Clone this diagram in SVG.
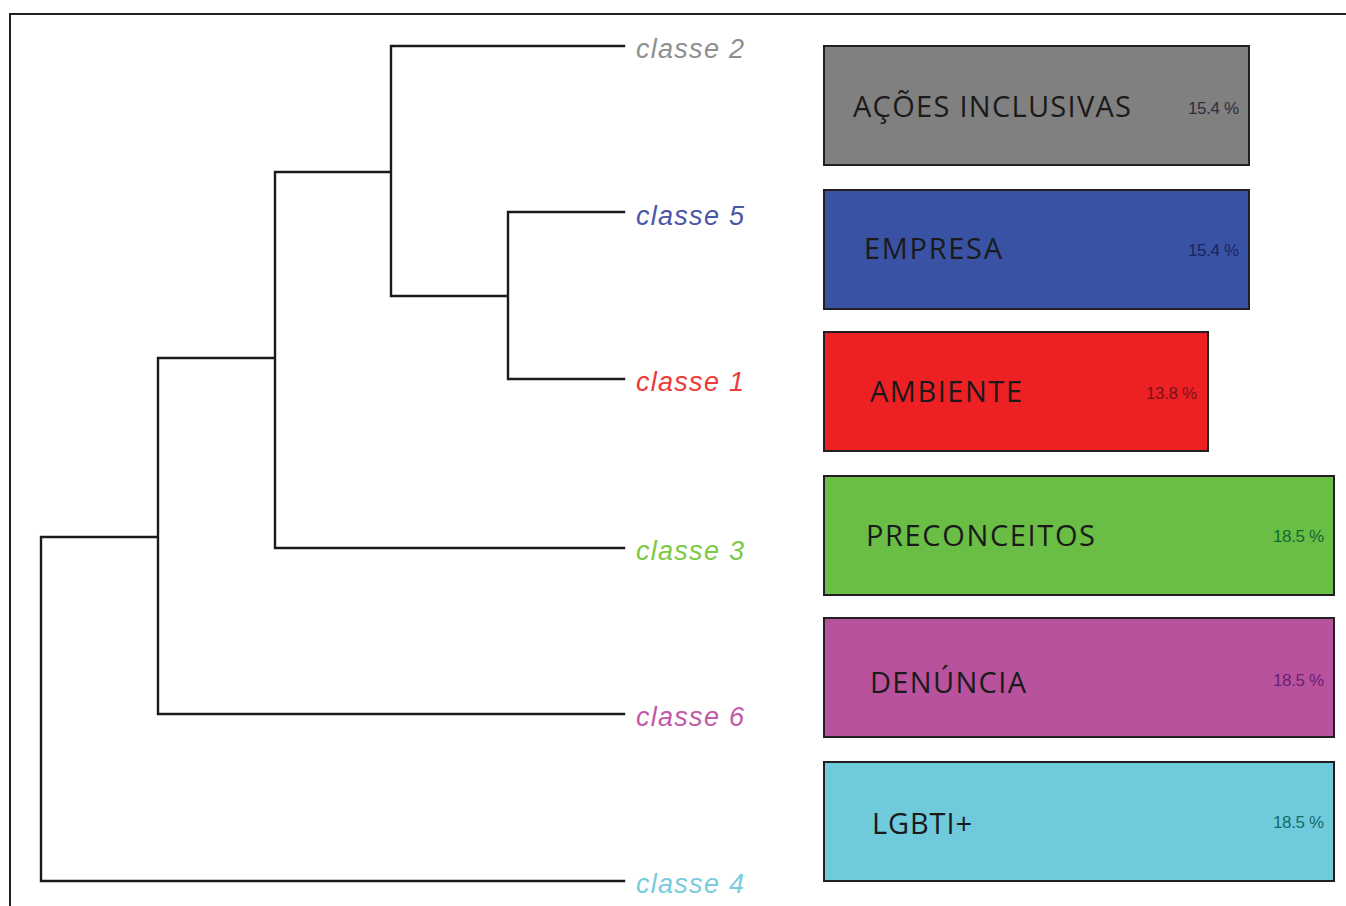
<svg xmlns="http://www.w3.org/2000/svg" width="1346" height="906" viewBox="0 0 1346 906">
<style>
.frame{stroke:#231f20;stroke-width:2;fill:none}
.tree{stroke:#1a1a1a;stroke-width:2.4;fill:none;stroke-linecap:square}
.cls{font-family:"Liberation Sans",Arial,sans-serif;font-style:italic;font-size:27px}
.box{stroke:#231f20;stroke-width:2}
.lbl{font-family:"Open Sans","Liberation Sans",sans-serif;font-size:29px;fill:#1a1a1a}
.pct{font-family:"Liberation Sans",Arial,sans-serif;font-size:17px;letter-spacing:-1px}
</style>
<rect width="1346" height="906" fill="#ffffff"/>
<path class="frame" d="M10,906 V14 H1346"/>
<g id="connectors">
<path class="tree" d="M391,46 H624 M508,212 H624 M508,379 H624 M508,212 V379 M391,296 H508 M391,46 V296 M275,172 H391 M275,172 V548 M275,548 H624 M158,358 H275 M158,358 V714 M158,714 H624 M41,537 H158 M41,537 V881 M41,881 H624"/>
</g>
<g id="labels">
<text class="cls" x="636" y="58" fill="#8f8f8f" textLength="108">classe  2</text>
<text class="cls" x="636" y="225" fill="#4a57a8" textLength="108">classe  5</text>
<text class="cls" x="636" y="391" fill="#ee3a3a" textLength="108">classe  1</text>
<text class="cls" x="636" y="560" fill="#7dc943" textLength="108">classe  3</text>
<text class="cls" x="636" y="726" fill="#c25aa8" textLength="108">classe  6</text>
<text class="cls" x="636" y="893" fill="#79ccdd" textLength="108">classe  4</text>
</g>
<g id="node-acoes">
<rect class="box" x="824" y="46" width="425" height="119" fill="#808080"/>
<text class="lbl" x="853" y="117" textLength="278">AÇÕES INCLUSIVAS</text>
<text class="pct" x="1188" y="114" fill="#2e2e3e" textLength="50">15.4 %</text>
</g>
<g id="node-empresa">
<rect class="box" x="824" y="190" width="425" height="119" fill="#3952a4"/>
<text class="lbl" x="864" y="259" textLength="138">EMPRESA</text>
<text class="pct" x="1188" y="256" fill="#1a2460" textLength="50">15.4 %</text>
</g>
<g id="node-ambiente">
<rect class="box" x="824" y="332" width="384" height="119" fill="#ed2024"/>
<text class="lbl" x="870" y="402" textLength="152">AMBIENTE</text>
<text class="pct" x="1146" y="399" fill="#7a1418" textLength="50">13.8 %</text>
</g>
<g id="node-preconceitos">
<rect class="box" x="824" y="476" width="510" height="119" fill="#6abd45"/>
<text class="lbl" x="866" y="546" textLength="229">PRECONCEITOS</text>
<text class="pct" x="1273" y="542" fill="#136a30" textLength="50">18.5 %</text>
</g>
<g id="node-denuncia">
<rect class="box" x="824" y="618" width="510" height="119" fill="#b8529d"/>
<text class="lbl" x="870" y="693" textLength="156">DENÚNCIA</text>
<text class="pct" x="1273" y="686" fill="#6a2078" textLength="50">18.5 %</text>
</g>
<g id="node-lgbti">
<rect class="box" x="824" y="762" width="510" height="119" fill="#6fcbdc"/>
<text class="lbl" x="872" y="834" textLength="100">LGBTI+</text>
<text class="pct" x="1273" y="828" fill="#146a6a" textLength="50">18.5 %</text>
</g>
</svg>
